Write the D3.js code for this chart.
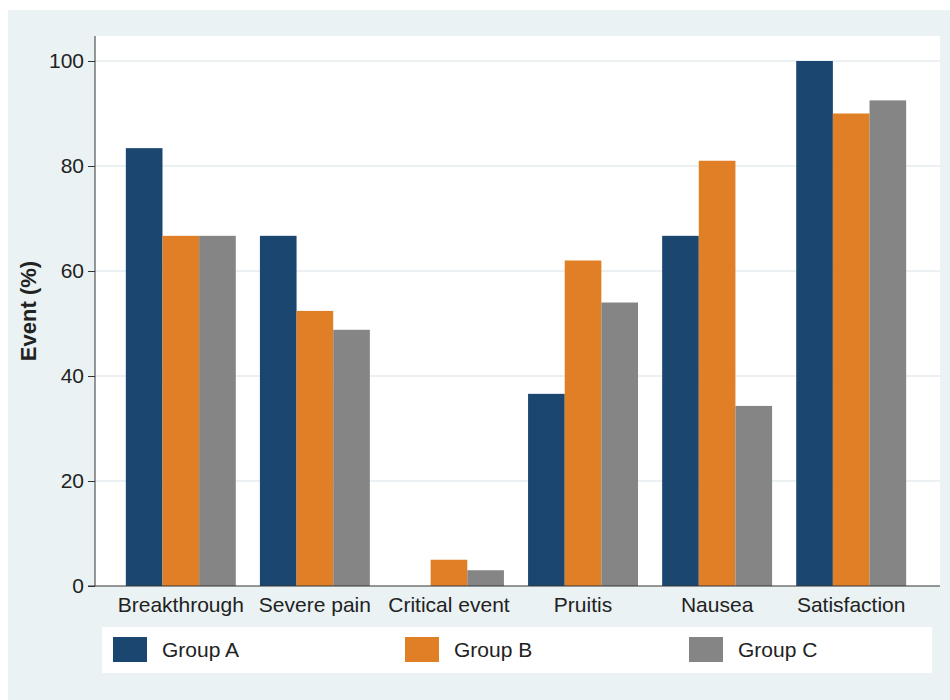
<!DOCTYPE html>
<meta charset="utf-8">
<script src="https://cdn.jsdelivr.net/npm/d3@7"></script>
<style>
  body { margin: 0; background: #fff; }
  text { font-family: "Liberation Sans", Arial, sans-serif; fill: #222; }
</style>
<div id="chart"></div>
<script>

// data
var categories = ["Breakthrough", "Severe pain", "Critical event", "Pruitis", "Nausea", "Satisfaction"];
var groups = ["Group A", "Group B", "Group C"];
var groupA = [83.4, 66.7, 0, 36.6, 66.7, 100];
var groupB = [66.7, 52.4, 5.0, 62.0, 81.0, 90.0];
var groupC = [66.7, 48.8, 3.0, 54.0, 34.3, 92.5];
var yTicks = [0, 20, 40, 60, 80, 100];
var colors = ["#1b4670", "#e07f26", "#858585"];

var W = 950, H = 700;
var plot = {left: 95, right: 940, top: 36, bottom: 586};

var svg = d3.select("#chart").append("svg")
    .attr("width", W)
    .attr("height", H);

// outer panel
svg.append("rect")
    .attr("x", 8).attr("y", 10)
    .attr("width", W - 8).attr("height", H - 10)
    .attr("fill", "#eaf2f3");

// plot region
svg.append("rect")
    .attr("x", plot.left).attr("y", plot.top)
    .attr("width", plot.right - plot.left).attr("height", plot.bottom - plot.top)
    .attr("fill", "#fff");

var x = d3.scaleBand()
    .domain(categories)
    .range([plot.left, 937])
    .paddingInner(0.18)
    .paddingOuter(0.23);

var xs = d3.scaleBand()
    .domain(groups)
    .range([0, x.bandwidth()]);

var y = d3.scaleLinear()
    .domain([0, 100])
    .range([plot.bottom, 61]);

// gridlines
svg.append("g")
  .selectAll("line")
  .data(yTicks.slice(1))
  .enter().append("line")
    .attr("x1", plot.left).attr("x2", plot.right)
    .attr("y1", function(d) { return y(d); })
    .attr("y2", function(d) { return y(d); })
    .attr("stroke", "#e4ecee")
    .attr("stroke-width", 1.5);

// bars
var series = [groupA, groupB, groupC];
var barData = [];
series.forEach(function(vals, gi) {
  vals.forEach(function(v, ci) {
    barData.push({cat: categories[ci], group: groups[gi], gi: gi, value: v});
  });
});

svg.append("g")
  .selectAll("rect")
  .data(barData.filter(function(d) { return d.value > 0; }))
  .enter().append("rect")
    .attr("x", function(d) { return x(d.cat) + xs(d.group); })
    .attr("y", function(d) { return y(d.value); })
    .attr("width", xs.bandwidth())
    .attr("height", function(d) { return y(0) - y(d.value); })
    .attr("fill", function(d) { return colors[d.gi]; });

// y axis
var yAxis = svg.append("g")
    .attr("transform", "translate(" + plot.left + ",0)")
    .call(d3.axisLeft(y).tickValues(yTicks).tickSize(7).tickPadding(4));
yAxis.select(".domain").attr("d", "M0," + plot.top + "V" + plot.bottom).attr("stroke", "#333");
yAxis.selectAll(".tick line").attr("stroke", "#333");
yAxis.selectAll(".tick text").attr("font-size", 21).attr("fill", "#222");

// x axis
var xAxis = svg.append("g")
    .attr("transform", "translate(0," + plot.bottom + ")")
    .call(d3.axisBottom(x).tickSize(0).tickPadding(11));
xAxis.select(".domain").attr("d", "M" + (plot.left - 7) + ",0H" + plot.right).attr("stroke", "#333");
xAxis.selectAll(".tick text").attr("font-size", 21).attr("fill", "#222");

// y title
svg.append("text")
    .attr("transform", "translate(36," + ((plot.top + plot.bottom) / 2) + ") rotate(-90)")
    .attr("text-anchor", "middle")
    .attr("font-size", 22)
    .attr("font-weight", "bold")
    .text("Event (%)");

// legend
var legendBox = svg.append("g");
legendBox.append("rect")
    .attr("x", 102).attr("y", 627)
    .attr("width", 830).attr("height", 46)
    .attr("fill", "#fff");

var legend = legendBox.selectAll("g")
    .data(groups)
    .enter().append("g")
    .attr("transform", function(d, i) {
      return "translate(" + [113, 405, 689][i] + ",637)";
    });

legend.append("rect")
    .attr("width", 34)
    .attr("height", 25)
    .attr("fill", function(d, i) { return colors[i]; });

legend.append("text")
    .attr("x", 49)
    .attr("y", 12.5)
    .attr("dy", "0.35em")
    .attr("font-size", 21)
    .text(function(d) { return d; });

</script>
